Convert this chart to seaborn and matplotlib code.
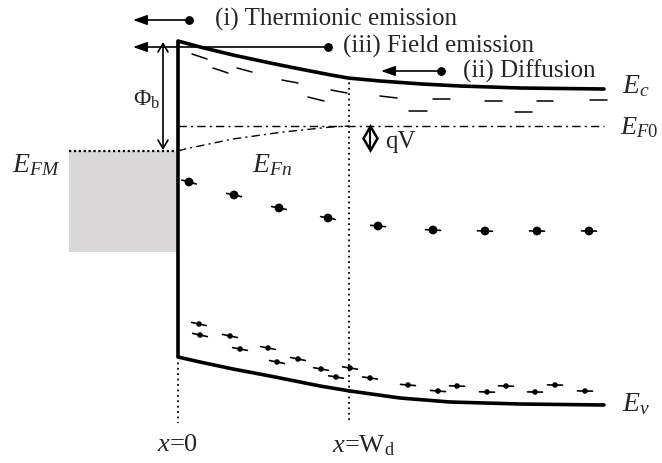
import numpy as np
import pandas as pd
import matplotlib
matplotlib.use("Agg")
import matplotlib.pyplot as plt
import seaborn as sns
from matplotlib.patches import Rectangle

sns.set_theme(style="white")
plt.rcParams['font.family'] = ['Liberation Serif', 'DejaVu Serif']
plt.rcParams['mathtext.fontset'] = 'custom'
plt.rcParams['mathtext.rm'] = 'Liberation Serif'
plt.rcParams['mathtext.it'] = 'Liberation Serif:italic'

# ---- data (diagram coordinates) ----
ec_x = [178, 200, 233, 275, 300, 331, 348, 380, 422, 460, 520, 604]
ec_y = [42, 48, 56, 65, 70, 76, 79, 82, 85, 87, 89, 90]
ev_x = [178, 200, 233, 270, 300, 320, 350, 400, 450, 520, 604]
ev_y = [358, 363, 370, 377, 383, 387, 392, 399, 403, 405, 406]
efn_x = [178, 185, 233, 283, 331, 349]
efn_y = [152, 150, 140, 133, 128, 127]
ef0_x = [178, 604]
ef0_y = [127, 127]

# dashed curves (each dash: x0, x1, y0, y1)
dash_up_x0 = [192, 237, 282, 331, 380, 433, 485, 537, 590]
dash_up_x1 = [207, 252, 298, 347, 397, 450, 502, 553, 607]
dash_up_y0 = [55, 69, 81, 91, 97, 100, 102, 102, 101]
dash_up_y1 = [60, 73, 84, 94, 99, 100, 102, 102, 101]
dash_lo_x0 = [213, 308, 409, 515]
dash_lo_x1 = [228, 324, 427, 532]
dash_lo_y0 = [69, 98, 112, 113]
dash_lo_y1 = [74, 102, 112, 113]

# electrons (conduction band) and holes (valence band)
el_x = [189, 234, 279, 328, 378, 433, 485, 537, 589]
el_y = [183, 196, 209, 219, 227, 231, 232, 232, 232]
ho_x = [199, 200, 230, 240, 268, 277, 298, 321, 336, 350, 370, 408,
        438, 457, 487, 506, 535, 555, 585]
ho_y = [325, 336, 337, 350, 349, 363, 360, 370, 378, 369, 379, 386,
        392, 387, 393, 387, 393, 386, 392]

fig = plt.figure(figsize=(6.62, 4.64), dpi=100)
ax = fig.add_axes([0, 0, 1, 1])
ax.set_xlim(0, 662)
ax.set_ylim(464, 0)
ax.axis('off')

# metal
ax.add_patch(Rectangle((69, 152), 109, 101, facecolor='#d9d7d8', edgecolor='none', zorder=0))
ax.plot([69, 178], [152, 152], ls=(0, (1, 1.2)), color='black', lw=1.6)

# bands
df_ec = pd.DataFrame({'x': ec_x, 'y': ec_y})
df_ev = pd.DataFrame({'x': ev_x, 'y': ev_y})
sns.lineplot(data=df_ec, x='x', y='y', ax=ax, color='black', lw=2.6, sort=False, estimator=None)
sns.lineplot(data=df_ev, x='x', y='y', ax=ax, color='black', lw=2.6, sort=False, estimator=None)
ax.plot([178, 178], [ec_y[0], ev_y[0]], color='black', lw=2.6, solid_capstyle='butt')

# fermi levels
ax.plot(ef0_x, ef0_y, color='black', lw=1.0, ls=(0, (6, 3, 1.5, 3)))
ax.plot(efn_x, efn_y, color='black', lw=1.0, ls=(0, (6, 3, 1.5, 3)))

# dashed curves
for x0, x1, y0, y1 in zip(dash_up_x0 + dash_lo_x0, dash_up_x1 + dash_lo_x1,
                          dash_up_y0 + dash_lo_y0, dash_up_y1 + dash_lo_y1):
    ax.plot([x0, x1], [y0, y1], color='black', lw=1.1)

# dotted verticals
ax.plot([178, 178], [358, 424], color='black', lw=1.3, ls=(0, (1, 2)))
ax.plot([349, 349], [78, 424], color='black', lw=1.3, ls=(0, (1, 2)))

# carriers with short tilted bars following the local band slope
def bars(xs, ys, cx, cy, half):
    for x, y in zip(xs, ys):
        s = np.interp(x + 3, cx, cy) - np.interp(x - 3, cx, cy)
        ang = np.arctan2(s, 6)
        ax.plot([x - half * np.cos(ang), x + half * np.cos(ang)],
                [y - half * np.sin(ang), y + half * np.sin(ang)], color='black', lw=1.2)

bars(el_x, el_y, ec_x, ec_y, 7.5)
bars(ho_x, ho_y, ev_x, ev_y, 7.5)
sns.scatterplot(x=el_x, y=el_y, ax=ax, color='black', s=40, edgecolor='none', zorder=5)
sns.scatterplot(x=ho_x, y=ho_y, ax=ax, color='black', s=16, edgecolor='none', zorder=5)

# transport arrows
arrows = [(189, 133, 21), (328, 133, 48), (441, 381, 72)]
for x0, x1, y in arrows:
    ax.annotate('', xy=(x1, y), xytext=(x0, y),
                arrowprops=dict(arrowstyle='-|>,head_length=0.7,head_width=0.25', lw=1.2,
                                color='black', shrinkA=0, shrinkB=0))
    ax.scatter([x0], [y], s=28, color='black', zorder=5)

fs = 18
ax.text(215, 19, '(i) Thermionic emission', fontsize=fs, va='center', ha='left')
ax.text(343, 46, '(iii) Field emission', fontsize=fs, va='center', ha='left')
ax.text(463, 71, '(ii) Diffusion', fontsize=fs, va='center', ha='left')

# barrier height arrow
ax.annotate('', xy=(163, 151), xytext=(163, 43),
            arrowprops=dict(arrowstyle='<->,head_length=0.5,head_width=0.3', lw=1.2,
                            color='black', shrinkA=0, shrinkB=0))
ax.text(133, 100, r'$\Phi_{\mathrm{b}}$', fontsize=17, va='center', ha='left')

# qV (diamond-shaped double arrow)
ax.plot([370, 370], [128, 149], color='black', lw=1.5)
ax.plot([370], [138.5], marker='d', markersize=12.5, markerfacecolor='none',
        markeredgecolor='black', markeredgewidth=1.8)
ax.text(385, 142, 'qV', fontsize=18, va='center', ha='left')

# level labels
fl = 20
ax.text(12, 165, r'$E_{FM}$', fontsize=fl, va='center', ha='left')
ax.text(252, 165, r'$E_{Fn}$', fontsize=fl, va='center', ha='left')
ax.text(622, 86, r'$E_{c}$', fontsize=fl, va='center', ha='left')
ax.text(620, 128, r'$E_{F0}$', fontsize=19, va='center', ha='left')
ax.text(622, 404, r'$E_{v}$', fontsize=fl, va='center', ha='left')
ax.text(178, 445, r'$x$=0', fontsize=19, va='center', ha='center')
ax.text(363, 446, r'$x$=W$_{\mathrm{d}}$', fontsize=19, va='center', ha='center')

fig.savefig('out.png', dpi=100)
